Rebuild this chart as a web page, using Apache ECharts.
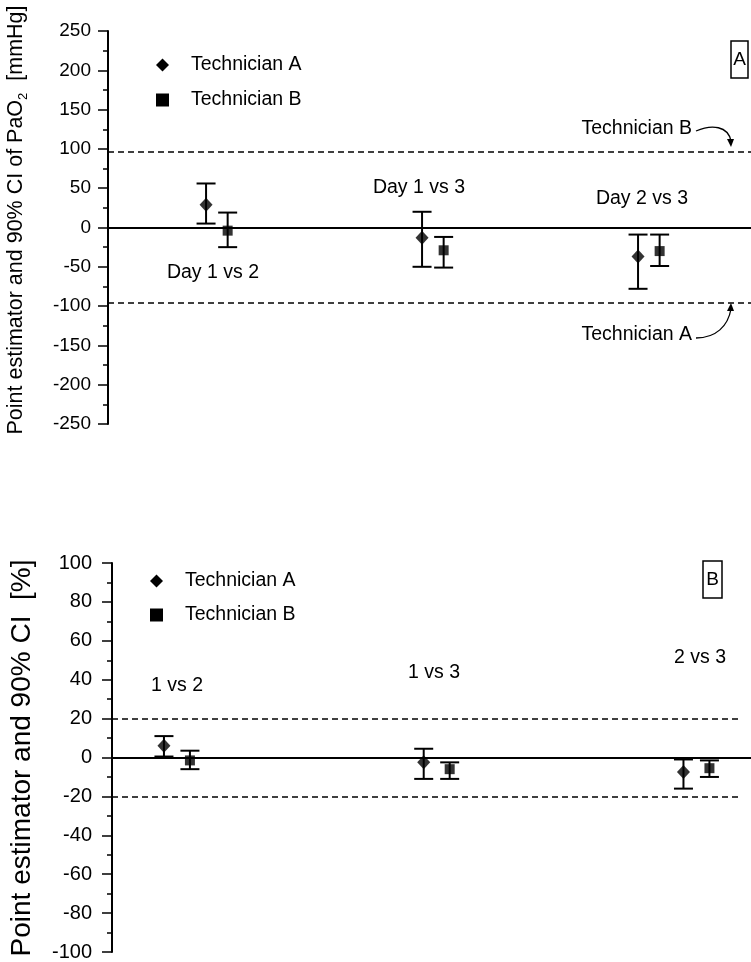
<!DOCTYPE html>
<html><head><meta charset="utf-8">
<script src="https://cdn.jsdelivr.net/npm/echarts@6/dist/echarts.min.js"></script>
<style>html,body{margin:0;padding:0;background:#fff}#c{width:751px;height:962px}</style>
</head><body><div id="c"></div>
<script>
// ---------- data ----------
const techNames = ['Technician A', 'Technician B'];
const groupsTop = ['Day 1 vs 2', 'Day 1 vs 3', 'Day 2 vs 3'];
const groupsBottom = ['1 vs 2', '1 vs 3', '2 vs 3'];
const groupPos = [1, 2, 3];

// Panel A: PaO2 [mmHg]
const topA_point = [29, -13, -37];
const topA_low   = [5, -50, -78];
const topA_high  = [56, 20, -9];
const topB_point = [-4, -29, -30];
const topB_low   = [-25, -51, -49];
const topB_high  = [19, -12, -9];
const topLimits  = [96, -96];
const topTicks   = [-250, -200, -150, -100, -50, 0, 50, 100, 150, 200, 250];

// Panel B: [%]
const botA_point = [6, -2.5, -7.5];
const botA_low   = [0.5, -11, -16];
const botA_high  = [11, 4.5, -1];
const botB_point = [-1.5, -6, -5.5];
const botB_low   = [-6, -11, -10];
const botB_high  = [3.5, -2.5, -1.5];
const botLimits  = [20, -20];
const botTicks   = [-100, -80, -60, -40, -20, 0, 20, 40, 60, 80, 100];

// ---------- helpers ----------
const FONT = '"Liberation Sans", Arial, sans-serif';
const offB = 0.1;
const xs = (k) => groupPos.map(p => p + k);
const pts = (x, y) => x.map((v, i) => [v, y[i]]);
const bars = (x, lo, hi) => x.map((v, i) => [v, lo[i], hi[i]]);

function errRender(params, api) {
  const x = api.value(0), lo = api.value(1), hi = api.value(2);
  const a = api.coord([x, lo]), b = api.coord([x, hi]);
  const w = 9.5, st = { stroke: '#000', lineWidth: 2 };
  return { type: 'group', children: [
    { type: 'line', shape: { x1: a[0], y1: a[1], x2: b[0], y2: b[1] }, style: st },
    { type: 'line', shape: { x1: a[0] - w, y1: a[1], x2: a[0] + w, y2: a[1] }, style: st },
    { type: 'line', shape: { x1: b[0] - w, y1: b[1], x2: b[0] + w, y2: b[1] }, style: st }
  ]};
}

function yAxisCfg(ticks, grid, fs, margin) {
  return {
    type: 'value', gridIndex: grid, min: ticks[0], max: ticks[ticks.length - 1],
    interval: ticks[1] - ticks[0],
    axisLine: { show: true, onZero: false, lineStyle: { color: '#000', width: 2 } },
    axisTick: { show: true, inside: false, length: 10, lineStyle: { color: '#000', width: 1.5 } },
    minorTick: { show: true, splitNumber: 2, length: 5, lineStyle: { color: '#000', width: 1.5 } },
    splitLine: { show: false },
    axisLabel: { color: '#000', fontSize: fs, fontFamily: FONT, margin: margin }
  };
}

const topX = { min: 0.546, max: 3.523 };
const botX = { min: 0.8, max: 3.26 };

function panelSeries(gi, Ap, Al, Ah, Bp, Bl, Bh, limits, dashEnd) {
  const xA = xs(0), xB = xs(offB);
  const limLines = limits.map(v => dashEnd == null ? { yAxis: v } :
    [{ coord: [dashEnd[0], v] }, { coord: [dashEnd[1], v] }]);
  return [
    { type: 'scatter', xAxisIndex: gi, yAxisIndex: gi, symbolSize: 0, data: [], silent: true,
      markLine: { silent: true, symbol: 'none', label: { show: false }, animation: false,
        lineStyle: { type: 'solid', width: 2, color: '#000' },
        data: [{ yAxis: 0 }] } },
    { type: 'scatter', xAxisIndex: gi, yAxisIndex: gi, symbolSize: 0, data: [], silent: true,
      markLine: { silent: true, symbol: 'none', label: { show: false }, animation: false,
        lineStyle: { type: [6, 4], width: 1.5, color: '#000' },
        data: limLines } },
    { type: 'custom', xAxisIndex: gi, yAxisIndex: gi, renderItem: errRender,
      data: bars(xA, Al, Ah), z: 3, silent: true },
    { type: 'custom', xAxisIndex: gi, yAxisIndex: gi, renderItem: errRender,
      data: bars(xB, Bl, Bh), z: 3, silent: true },
    { type: 'scatter', name: techNames[0], xAxisIndex: gi, yAxisIndex: gi,
      symbol: 'diamond', symbolSize: [13, 14], itemStyle: { color: '#000' },
      data: pts(xA, Ap), z: 5 },
    { type: 'scatter', name: techNames[1], xAxisIndex: gi, yAxisIndex: gi,
      symbol: 'rect', symbolSize: 10, itemStyle: { color: '#000' },
      data: pts(xB, Bp), z: 5 }
  ];
}

function txt(x, y, s, opts) {
  return { type: 'text', x: x, y: y,
    style: Object.assign({ text: s, fill: '#000', font: '19.5px ' + FONT,
      align: 'center', verticalAlign: 'middle' }, opts || {}) };
}

function legendCfg(left, top, gap) {
  return { orient: 'vertical', left: left, top: top, itemWidth: 13, itemHeight: 13, itemGap: gap,
    selectedMode: false, itemStyle: { color: '#000', opacity: 1 },
    textStyle: { color: '#000', fontSize: 19.5, fontFamily: FONT, padding: [0, 0, 0, 17] },
    data: [{ name: techNames[0], icon: 'diamond' }, { name: techNames[1], icon: 'rect' }] };
}

const chart = echarts.init(document.getElementById('c'), null, { renderer: 'canvas' });
chart.setOption({
  backgroundColor: '#fff',
  animation: false,
  grid: [
    { left: 108, top: 31, width: 643, height: 393 },
    { left: 112, top: 563, width: 639, height: 391 }
  ],
  xAxis: [
    { type: 'value', gridIndex: 0, min: topX.min, max: topX.max, show: false },
    { type: 'value', gridIndex: 1, min: botX.min, max: botX.max, show: false }
  ],
  yAxis: [yAxisCfg(topTicks, 0, 19, 17), yAxisCfg(botTicks, 1, 20, 20)],
  legend: [legendCfg(151, 50, 15), legendCfg(145, 566, 14)],
  series: [].concat(
    panelSeries(0, topA_point, topA_low, topA_high, topB_point, topB_low, topB_high, topLimits, null),
    panelSeries(1, botA_point, botA_low, botA_high, botB_point, botB_low, botB_high, botLimits, [botX.min, 3.22])
  ),
  graphic: [
    // y-axis titles
    { type: 'text', x: 16, y: 220, rotation: Math.PI / 2,
      style: { text: 'Point estimator and 90% CI of PaO{sub|2}  [mmHg]', fill: '#000',
        font: '21.5px ' + FONT, align: 'center', verticalAlign: 'middle', lineHeight: 28,
        rich: { sub: { fontSize: 13, fontFamily: FONT, verticalAlign: 'bottom', lineHeight: 16, fill: '#000' } } } },
    { type: 'text', x: 22, y: 758, rotation: Math.PI / 2,
      style: { text: 'Point estimator and 90% CI  [%]', fill: '#000',
        font: '28px ' + FONT, align: 'center', verticalAlign: 'middle' } },
    // group labels
    txt(213, 273, groupsTop[0]), txt(419, 188, groupsTop[1]), txt(642, 199, groupsTop[2]),
    txt(177, 686, groupsBottom[0]), txt(434, 673, groupsBottom[1]), txt(700, 658, groupsBottom[2]),
    // limit annotations
    txt(692, 129, techNames[1], { align: 'right' }),
    txt(692, 335, techNames[0], { align: 'right' }),
    { type: 'bezierCurve', shape: { x1: 696, y1: 131, cpx1: 712, cpy1: 124, cpx2: 728, cpy2: 126, x2: 731, y2: 141 },
      style: { stroke: '#000', lineWidth: 1.3, fill: null } },
    { type: 'polygon', shape: { points: [[727, 139], [734, 139], [731, 147]] }, style: { fill: '#000' } },
    { type: 'bezierCurve', shape: { x1: 696, y1: 338, cpx1: 716, cpy1: 338, cpx2: 728, cpy2: 326, x2: 731, y2: 309 },
      style: { stroke: '#000', lineWidth: 1.3, fill: null } },
    { type: 'polygon', shape: { points: [[727, 311], [734, 311], [731, 303]] }, style: { fill: '#000' } },
    // panel boxes
    { type: 'rect', shape: { x: 731, y: 41, width: 17, height: 37 }, style: { fill: null, stroke: '#000', lineWidth: 1.5 } },
    txt(739.5, 60, 'A', { font: '19px ' + FONT }),
    { type: 'rect', shape: { x: 703, y: 561, width: 19, height: 37 }, style: { fill: null, stroke: '#000', lineWidth: 1.5 } },
    txt(712.5, 580, 'B', { font: '19px ' + FONT })
  ]
});
</script>
</body></html>
